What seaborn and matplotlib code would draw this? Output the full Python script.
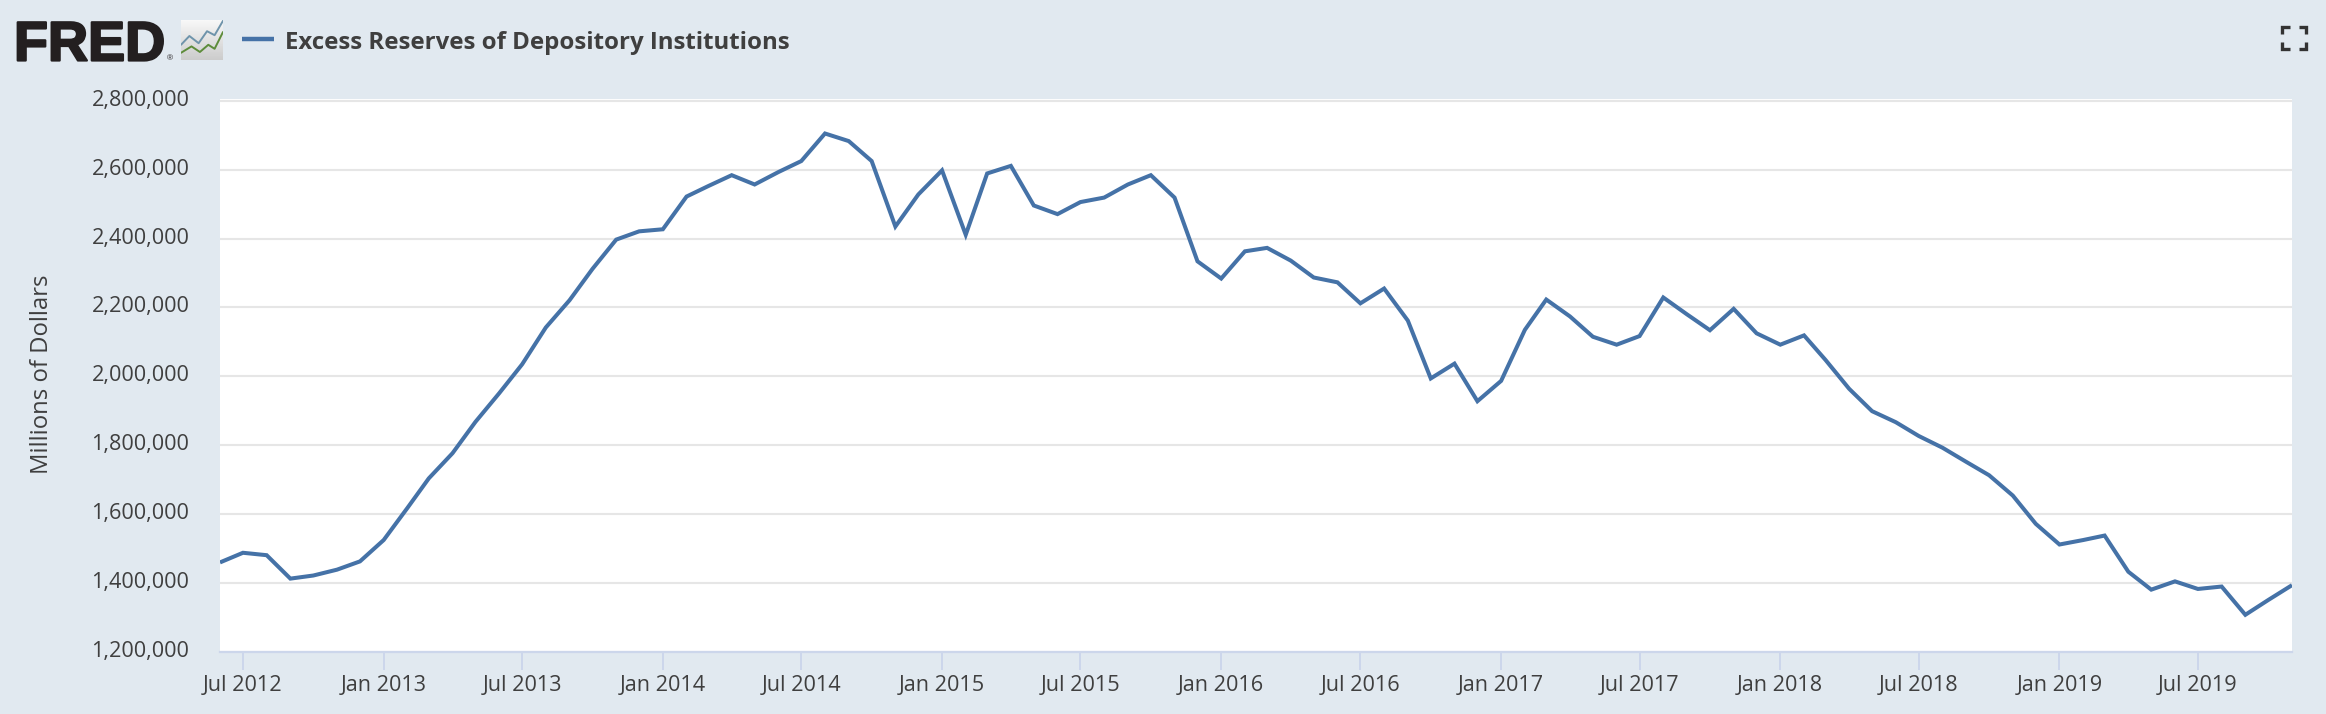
import matplotlib
matplotlib.use("Agg")
import matplotlib.pyplot as plt
import matplotlib.dates as mdates
import matplotlib.patheffects as pe
from matplotlib.lines import Line2D
from matplotlib.ticker import FuncFormatter
from matplotlib.transforms import ScaledTranslation
import numpy as np
import pandas as pd
import seaborn as sns

series_name = "Excess Reserves of Depository Institutions"
y_label = "Millions of Dollars"
start_month = "2012-06-01"
end_month = "2019-11-01"
reserves = [
    1460000, 1488000, 1481000, 1413000, 1422000, 1439000, 1463000,
    1525000, 1618000, 1704000, 1777000, 1868000, 1951000, 2035000, 2142000, 2221000, 2312000, 2397000, 2421000,
    2427000, 2522000, 2552000, 2584000, 2557000, 2593000, 2625000, 2705000, 2683000, 2625000, 2435000, 2528000,
    2598000, 2411000, 2589000, 2611000, 2496000, 2471000, 2506000, 2519000, 2557000, 2584000, 2519000, 2334000,
    2284000, 2363000, 2373000, 2336000, 2287000, 2273000, 2212000, 2255000, 2162000, 1994000, 2037000, 1928000,
    1987000, 2135000, 2223000, 2174000, 2115000, 2092000, 2117000, 2229000, 2180000, 2134000, 2196000, 2125000,
    2092000, 2119000, 2048000, 1964000, 1899000, 1867000, 1827000, 1793000, 1752000, 1713000, 1654000, 1572000,
    1512000, 1525000, 1538000, 1433000, 1381000, 1405000, 1383000, 1390000, 1308000, 1351000, 1394000,
]
y_ticks = [1200000, 1400000, 1600000, 1800000, 2000000, 2200000, 2400000, 2600000, 2800000]
x_tick_dates = ["2012-07-01", "2013-01-01", "2013-07-01", "2014-01-01", "2014-07-01", "2015-01-01",
                "2015-07-01", "2016-01-01", "2016-07-01", "2017-01-01", "2017-07-01", "2018-01-01",
                "2018-07-01", "2019-01-01", "2019-07-01"]

BG = "#e1e9f0"
LINE = "#4572a7"
GRID = "#e6e6e6"
AXIS = "#ccd6eb"
TEXT = "#3f3f3f"
W, H = 2326, 714

sns.set_style("white")
plt.rcParams["font.family"] = ["Open Sans", "DejaVu Sans"]

fig = plt.figure(figsize=(W / 100, H / 100), dpi=100, facecolor=BG)


def fx(px):
    return px / W


def fy(px):
    return 1 - px / H


left, right, top, bottom = 220, 2292, 98.7, 652
ax = fig.add_axes([fx(left), fy(bottom), fx(right - left), (bottom - top) / H])
ax.set_facecolor("white")

df = pd.DataFrame({"date": pd.date_range(start_month, end_month, freq="MS"), "value": reserves})
sns.lineplot(data=df, x="date", y="value", ax=ax, color=LINE, linewidth=2.9, zorder=3,
             errorbar=None, solid_joinstyle="miter", solid_capstyle="butt")

ax.set_xlim(pd.Timestamp(start_month), pd.Timestamp(end_month))
ax.set_ylim(1200000, 2806000)
ax.set_xticks(pd.to_datetime(x_tick_dates))
ax.xaxis.set_major_formatter(mdates.DateFormatter("%b %Y"))
ax.set_yticks(y_ticks)
ax.yaxis.set_major_formatter(FuncFormatter(lambda v, _: f"{int(v):,}"))
ax.set_xlabel("")
ax.set_ylabel("")

ax.grid(axis="y", color=GRID, linewidth=1.5, zorder=1)
ax.grid(axis="x", visible=False)
for s in ("top", "left", "right"):
    ax.spines[s].set_visible(False)
ax.spines["bottom"].set_color(AXIS)
ax.spines["bottom"].set_linewidth(1.6)
ax.tick_params(axis="x", length=13, width=1.4, color=AXIS, labelcolor=TEXT, labelsize=15.6, pad=3.7, bottom=True)
ax.tick_params(axis="y", length=0, labelcolor=TEXT, labelsize=15.6, pad=22)
shift = ScaledTranslation(0, 3 / 100, fig.dpi_scale_trans)
for lab in ax.get_yticklabels():
    lab.set_transform(lab.get_transform() + shift)

fig.text(fx(42), fy(374), y_label, rotation=90, ha="center", va="center", color=TEXT, fontsize=17.2)

# Header: logo wordmark, icon, legend, fullscreen glyph
fig.text(fx(14), fy(60.5), "FRED", family="Liberation Sans", weight="bold", fontsize=40, color="#231f20",
         ha="left", va="baseline",
         path_effects=[pe.withStroke(linewidth=1.6, foreground="#231f20")])
fig.text(fx(167), fy(60.5), "®", family="Liberation Sans", fontsize=6, color="#231f20", ha="left", va="baseline")

icon = fig.add_axes([fx(181), fy(60), fx(42), 40 / H])
icon.imshow(np.linspace(0.97, 0.80, 32)[:, None], cmap="gray", vmin=0, vmax=1, aspect="auto",
            extent=(0, 1, 0, 1))
icon.plot([0, 0.2, 0.42, 0.62, 0.8, 1], [0.38, 0.6, 0.42, 0.72, 0.62, 0.98], color="#6f94ab", lw=1.4)
icon.plot([0, 0.25, 0.45, 0.65, 0.8, 1], [0.18, 0.34, 0.2, 0.38, 0.28, 0.7], color="#5d8c3a", lw=1.4)
icon.set_xlim(0, 1)
icon.set_ylim(0, 1)
icon.axis("off")

fig.add_artist(Line2D([fx(242), fx(274)], [fy(39), fy(39)], color=LINE, lw=3.2, solid_capstyle="butt"))
fig.text(fx(285), fy(43), series_name, color=TEXT, fontsize=17.3, weight="bold", ha="left", va="center")

for xs, ys in (([2282, 2282, 2290], [34, 27, 27]), ([2299, 2306, 2306], [27, 27, 34]),
               ([2282, 2282, 2290], [42, 49, 49]), ([2299, 2306, 2306], [49, 49, 42])):
    fig.add_artist(Line2D([fx(v) for v in xs], [fy(v) for v in ys], color="#333333", lw=2.4,
                          solid_joinstyle="miter", solid_capstyle="butt"))

fig.savefig("out.png", dpi=100, facecolor=BG)
